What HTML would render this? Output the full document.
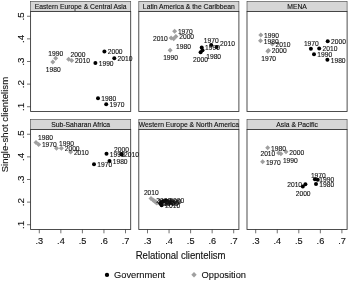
<!DOCTYPE html><html><head><meta charset="utf-8"><title>chart</title><style>html,body{margin:0;padding:0;background:#fff}svg{display:block;will-change:transform;filter:grayscale(1)}text{font-family:"Liberation Sans",sans-serif;fill:#111;stroke:#111;stroke-width:0.12px}</style></head><body>
<svg width="350" height="281" viewBox="0 0 350 281">
<rect width="350" height="281" fill="#fff"/>
<rect x="30.60" y="1.45" width="100.10" height="10.05" fill="#d6d6d6" stroke="#4a4a4a" stroke-width="0.65"/>
<rect x="30.60" y="11.50" width="100.10" height="100.00" fill="#fff" stroke="#2e2e2e" stroke-width="0.85"/>
<text transform="translate(80.65,8.72) scale(0.94,1)" font-size="7.23" text-anchor="middle">Eastern Europe &amp; Central Asia</text>
<rect x="138.80" y="1.45" width="100.10" height="10.05" fill="#d6d6d6" stroke="#4a4a4a" stroke-width="0.65"/>
<rect x="138.80" y="11.50" width="100.10" height="100.00" fill="#fff" stroke="#2e2e2e" stroke-width="0.85"/>
<text transform="translate(188.85,8.72) scale(0.94,1)" font-size="7.23" text-anchor="middle">Latin America &amp; the Caribbean</text>
<rect x="247.00" y="1.45" width="100.10" height="10.05" fill="#d6d6d6" stroke="#4a4a4a" stroke-width="0.65"/>
<rect x="247.00" y="11.50" width="100.10" height="100.00" fill="#fff" stroke="#2e2e2e" stroke-width="0.85"/>
<text transform="translate(297.05,8.72) scale(0.94,1)" font-size="7.23" text-anchor="middle">MENA</text>
<line x1="27.00" y1="16.25" x2="30.60" y2="16.25" stroke="#333" stroke-width="0.7"/>
<text transform="translate(23.60,16.35) rotate(-90)" font-size="9.80" text-anchor="middle">.5</text>
<line x1="27.00" y1="38.87" x2="30.60" y2="38.87" stroke="#333" stroke-width="0.7"/>
<text transform="translate(23.60,38.97) rotate(-90)" font-size="9.80" text-anchor="middle">.4</text>
<line x1="27.00" y1="61.49" x2="30.60" y2="61.49" stroke="#333" stroke-width="0.7"/>
<text transform="translate(23.60,61.59) rotate(-90)" font-size="9.80" text-anchor="middle">.3</text>
<line x1="27.00" y1="84.11" x2="30.60" y2="84.11" stroke="#333" stroke-width="0.7"/>
<text transform="translate(23.60,84.21) rotate(-90)" font-size="9.80" text-anchor="middle">.2</text>
<line x1="27.00" y1="106.73" x2="30.60" y2="106.73" stroke="#333" stroke-width="0.7"/>
<text transform="translate(23.60,106.83) rotate(-90)" font-size="9.80" text-anchor="middle">.1</text>
<rect x="30.60" y="119.45" width="100.10" height="10.05" fill="#d6d6d6" stroke="#4a4a4a" stroke-width="0.65"/>
<rect x="30.60" y="129.50" width="100.10" height="100.00" fill="#fff" stroke="#2e2e2e" stroke-width="0.85"/>
<text transform="translate(80.65,126.72) scale(0.94,1)" font-size="7.23" text-anchor="middle">Sub-Saharan Africa</text>
<line x1="39.30" y1="229.50" x2="39.30" y2="233.30" stroke="#333" stroke-width="0.7"/>
<text transform="translate(39.40,243.80) scale(0.94,1)" font-size="9.80" text-anchor="middle">.3</text>
<line x1="60.85" y1="229.50" x2="60.85" y2="233.30" stroke="#333" stroke-width="0.7"/>
<text transform="translate(60.95,243.80) scale(0.94,1)" font-size="9.80" text-anchor="middle">.4</text>
<line x1="82.40" y1="229.50" x2="82.40" y2="233.30" stroke="#333" stroke-width="0.7"/>
<text transform="translate(82.50,243.80) scale(0.94,1)" font-size="9.80" text-anchor="middle">.5</text>
<line x1="103.95" y1="229.50" x2="103.95" y2="233.30" stroke="#333" stroke-width="0.7"/>
<text transform="translate(104.05,243.80) scale(0.94,1)" font-size="9.80" text-anchor="middle">.6</text>
<line x1="125.50" y1="229.50" x2="125.50" y2="233.30" stroke="#333" stroke-width="0.7"/>
<text transform="translate(125.60,243.80) scale(0.94,1)" font-size="9.80" text-anchor="middle">.7</text>
<rect x="138.80" y="119.45" width="100.10" height="10.05" fill="#d6d6d6" stroke="#4a4a4a" stroke-width="0.65"/>
<rect x="138.80" y="129.50" width="100.10" height="100.00" fill="#fff" stroke="#2e2e2e" stroke-width="0.85"/>
<text transform="translate(188.85,126.72) scale(0.94,1)" font-size="7.23" text-anchor="middle">Western Europe &amp; North America</text>
<line x1="147.50" y1="229.50" x2="147.50" y2="233.30" stroke="#333" stroke-width="0.7"/>
<text transform="translate(147.60,243.80) scale(0.94,1)" font-size="9.80" text-anchor="middle">.3</text>
<line x1="169.05" y1="229.50" x2="169.05" y2="233.30" stroke="#333" stroke-width="0.7"/>
<text transform="translate(169.15,243.80) scale(0.94,1)" font-size="9.80" text-anchor="middle">.4</text>
<line x1="190.60" y1="229.50" x2="190.60" y2="233.30" stroke="#333" stroke-width="0.7"/>
<text transform="translate(190.70,243.80) scale(0.94,1)" font-size="9.80" text-anchor="middle">.5</text>
<line x1="212.15" y1="229.50" x2="212.15" y2="233.30" stroke="#333" stroke-width="0.7"/>
<text transform="translate(212.25,243.80) scale(0.94,1)" font-size="9.80" text-anchor="middle">.6</text>
<line x1="233.70" y1="229.50" x2="233.70" y2="233.30" stroke="#333" stroke-width="0.7"/>
<text transform="translate(233.80,243.80) scale(0.94,1)" font-size="9.80" text-anchor="middle">.7</text>
<rect x="247.00" y="119.45" width="100.10" height="10.05" fill="#d6d6d6" stroke="#4a4a4a" stroke-width="0.65"/>
<rect x="247.00" y="129.50" width="100.10" height="100.00" fill="#fff" stroke="#2e2e2e" stroke-width="0.85"/>
<text transform="translate(297.05,126.72) scale(0.94,1)" font-size="7.23" text-anchor="middle">Asia &amp; Pacific</text>
<line x1="255.70" y1="229.50" x2="255.70" y2="233.30" stroke="#333" stroke-width="0.7"/>
<text transform="translate(255.80,243.80) scale(0.94,1)" font-size="9.80" text-anchor="middle">.3</text>
<line x1="277.25" y1="229.50" x2="277.25" y2="233.30" stroke="#333" stroke-width="0.7"/>
<text transform="translate(277.35,243.80) scale(0.94,1)" font-size="9.80" text-anchor="middle">.4</text>
<line x1="298.80" y1="229.50" x2="298.80" y2="233.30" stroke="#333" stroke-width="0.7"/>
<text transform="translate(298.90,243.80) scale(0.94,1)" font-size="9.80" text-anchor="middle">.5</text>
<line x1="320.35" y1="229.50" x2="320.35" y2="233.30" stroke="#333" stroke-width="0.7"/>
<text transform="translate(320.45,243.80) scale(0.94,1)" font-size="9.80" text-anchor="middle">.6</text>
<line x1="341.90" y1="229.50" x2="341.90" y2="233.30" stroke="#333" stroke-width="0.7"/>
<text transform="translate(342.00,243.80) scale(0.94,1)" font-size="9.80" text-anchor="middle">.7</text>
<line x1="27.00" y1="134.25" x2="30.60" y2="134.25" stroke="#333" stroke-width="0.7"/>
<text transform="translate(23.60,134.35) rotate(-90)" font-size="9.80" text-anchor="middle">.5</text>
<line x1="27.00" y1="156.87" x2="30.60" y2="156.87" stroke="#333" stroke-width="0.7"/>
<text transform="translate(23.60,156.97) rotate(-90)" font-size="9.80" text-anchor="middle">.4</text>
<line x1="27.00" y1="179.49" x2="30.60" y2="179.49" stroke="#333" stroke-width="0.7"/>
<text transform="translate(23.60,179.59) rotate(-90)" font-size="9.80" text-anchor="middle">.3</text>
<line x1="27.00" y1="202.11" x2="30.60" y2="202.11" stroke="#333" stroke-width="0.7"/>
<text transform="translate(23.60,202.21) rotate(-90)" font-size="9.80" text-anchor="middle">.2</text>
<line x1="27.00" y1="224.73" x2="30.60" y2="224.73" stroke="#333" stroke-width="0.7"/>
<text transform="translate(23.60,224.83) rotate(-90)" font-size="9.80" text-anchor="middle">.1</text>
<text transform="translate(7.9,124.6) rotate(-90) scale(1,0.95)" font-size="9.60" text-anchor="middle">Single-shot clientelism</text>
<text transform="translate(180.6,258.7) scale(0.94,1)" font-size="10.20" text-anchor="middle">Relational clientelism</text>
<circle cx="107" cy="274.9" r="2.15" fill="#000"/>
<text transform="translate(114,278.1) scale(0.94,1)" font-size="9.90">Government</text>
<path d="M194 272.1 L196.7 274.8 L194 277.5 L191.3 274.8Z" fill="#a0a0a0"/>
<text transform="translate(201.6,278.1) scale(0.94,1)" font-size="9.90">Opposition</text>
<path d="M55.70 55.80 L58.20 58.30 L55.70 60.80 L53.20 58.30Z" fill="#a0a0a0"/>
<path d="M52.80 59.60 L55.30 62.10 L52.80 64.60 L50.30 62.10Z" fill="#a0a0a0"/>
<path d="M68.60 56.70 L71.10 59.20 L68.60 61.70 L66.10 59.20Z" fill="#a0a0a0"/>
<path d="M71.70 57.90 L74.20 60.40 L71.70 62.90 L69.20 60.40Z" fill="#a0a0a0"/>
<circle cx="104.40" cy="51.40" r="2.00" fill="#000"/>
<circle cx="114.30" cy="58.30" r="2.00" fill="#000"/>
<circle cx="95.40" cy="63.10" r="2.00" fill="#000"/>
<circle cx="98.00" cy="98.20" r="2.00" fill="#000"/>
<circle cx="106.20" cy="104.20" r="2.00" fill="#000"/>
<text x="55.70" y="55.91" font-size="6.70" text-anchor="middle" stroke="#111" stroke-width="0.18">1990</text>
<text x="53.30" y="71.71" font-size="6.70" text-anchor="middle" stroke="#111" stroke-width="0.18">1980</text>
<text x="70.60" y="56.91" font-size="6.70" text-anchor="start" stroke="#111" stroke-width="0.18">2000</text>
<text x="75.00" y="63.26" font-size="6.70" text-anchor="start" stroke="#111" stroke-width="0.18">2010</text>
<text x="107.70" y="54.26" font-size="6.70" text-anchor="start" stroke="#111" stroke-width="0.18">2000</text>
<text x="117.60" y="61.16" font-size="6.70" text-anchor="start" stroke="#111" stroke-width="0.18">2010</text>
<text x="98.70" y="65.96" font-size="6.70" text-anchor="start" stroke="#111" stroke-width="0.18">1990</text>
<text x="101.30" y="101.06" font-size="6.70" text-anchor="start" stroke="#111" stroke-width="0.18">1980</text>
<text x="109.50" y="107.06" font-size="6.70" text-anchor="start" stroke="#111" stroke-width="0.18">1970</text>
<path d="M174.60 28.70 L177.10 31.20 L174.60 33.70 L172.10 31.20Z" fill="#a0a0a0"/>
<path d="M175.90 34.10 L178.40 36.60 L175.90 39.10 L173.40 36.60Z" fill="#a0a0a0"/>
<path d="M171.10 35.50 L173.60 38.00 L171.10 40.50 L168.60 38.00Z" fill="#a0a0a0"/>
<path d="M173.70 36.20 L176.20 38.70 L173.70 41.20 L171.20 38.70Z" fill="#a0a0a0"/>
<path d="M170.10 47.70 L172.60 50.20 L170.10 52.70 L167.60 50.20Z" fill="#a0a0a0"/>
<circle cx="211.20" cy="45.10" r="2.00" fill="#000"/>
<circle cx="216.60" cy="46.90" r="2.00" fill="#000"/>
<circle cx="201.70" cy="47.40" r="2.00" fill="#000"/>
<circle cx="202.50" cy="50.30" r="2.00" fill="#000"/>
<circle cx="200.60" cy="52.30" r="2.00" fill="#000"/>
<text x="177.90" y="34.06" font-size="6.70" text-anchor="start" stroke="#111" stroke-width="0.18">1970</text>
<text x="179.20" y="39.46" font-size="6.70" text-anchor="start" stroke="#111" stroke-width="0.18">2000</text>
<text x="167.80" y="40.86" font-size="6.70" text-anchor="end" stroke="#111" stroke-width="0.18">2010</text>
<text x="176.10" y="48.81" font-size="6.70" text-anchor="start" stroke="#111" stroke-width="0.18">1980</text>
<text x="170.60" y="59.81" font-size="6.70" text-anchor="middle" stroke="#111" stroke-width="0.18">1990</text>
<text x="211.20" y="42.71" font-size="6.70" text-anchor="middle" stroke="#111" stroke-width="0.18">1970</text>
<text x="220.00" y="46.21" font-size="6.70" text-anchor="start" stroke="#111" stroke-width="0.18">2010</text>
<text x="205.00" y="50.26" font-size="6.70" text-anchor="start" stroke="#111" stroke-width="0.18">1990</text>
<text x="206.20" y="59.01" font-size="6.70" text-anchor="start" stroke="#111" stroke-width="0.18">1980</text>
<text x="193.10" y="61.81" font-size="6.70" text-anchor="start" stroke="#111" stroke-width="0.18">2000</text>
<path d="M260.80 32.55 L263.30 35.05 L260.80 37.55 L258.30 35.05Z" fill="#a0a0a0"/>
<path d="M260.50 38.30 L263.00 40.80 L260.50 43.30 L258.00 40.80Z" fill="#a0a0a0"/>
<path d="M272.30 41.50 L274.80 44.00 L272.30 46.50 L269.80 44.00Z" fill="#a0a0a0"/>
<path d="M268.50 47.90 L271.00 50.40 L268.50 52.90 L266.00 50.40Z" fill="#a0a0a0"/>
<path d="M267.80 48.80 L270.30 51.30 L267.80 53.80 L265.30 51.30Z" fill="#a0a0a0"/>
<circle cx="327.70" cy="41.30" r="2.00" fill="#000"/>
<circle cx="310.90" cy="48.70" r="2.00" fill="#000"/>
<circle cx="319.20" cy="48.50" r="2.00" fill="#000"/>
<circle cx="314.00" cy="54.20" r="2.00" fill="#000"/>
<circle cx="327.40" cy="59.80" r="2.00" fill="#000"/>
<text x="264.10" y="37.91" font-size="6.70" text-anchor="start" stroke="#111" stroke-width="0.18">1990</text>
<text x="263.80" y="43.66" font-size="6.70" text-anchor="start" stroke="#111" stroke-width="0.18">1980</text>
<text x="275.60" y="46.86" font-size="6.70" text-anchor="start" stroke="#111" stroke-width="0.18">2010</text>
<text x="271.80" y="53.26" font-size="6.70" text-anchor="start" stroke="#111" stroke-width="0.18">2000</text>
<text x="261.20" y="61.21" font-size="6.70" text-anchor="start" stroke="#111" stroke-width="0.18">1970</text>
<text x="331.00" y="44.16" font-size="6.70" text-anchor="start" stroke="#111" stroke-width="0.18">2000</text>
<text x="303.90" y="45.81" font-size="6.70" text-anchor="start" stroke="#111" stroke-width="0.18">1970</text>
<text x="322.50" y="51.36" font-size="6.70" text-anchor="start" stroke="#111" stroke-width="0.18">2010</text>
<text x="317.30" y="57.06" font-size="6.70" text-anchor="start" stroke="#111" stroke-width="0.18">1990</text>
<text x="330.70" y="62.66" font-size="6.70" text-anchor="start" stroke="#111" stroke-width="0.18">1980</text>
<path d="M36.00 139.90 L38.50 142.40 L36.00 144.90 L33.50 142.40Z" fill="#a0a0a0"/>
<path d="M38.60 142.10 L41.10 144.60 L38.60 147.10 L36.10 144.60Z" fill="#a0a0a0"/>
<path d="M56.50 145.80 L59.00 148.30 L56.50 150.80 L54.00 148.30Z" fill="#a0a0a0"/>
<path d="M61.40 145.80 L63.90 148.30 L61.40 150.80 L58.90 148.30Z" fill="#a0a0a0"/>
<path d="M70.60 149.60 L73.10 152.10 L70.60 154.60 L68.10 152.10Z" fill="#a0a0a0"/>
<circle cx="106.50" cy="153.80" r="2.00" fill="#000"/>
<circle cx="121.30" cy="154.00" r="2.00" fill="#000"/>
<circle cx="121.60" cy="154.40" r="2.00" fill="#000"/>
<circle cx="109.50" cy="161.00" r="2.00" fill="#000"/>
<circle cx="94.00" cy="164.30" r="2.00" fill="#000"/>
<text x="38.10" y="140.01" font-size="6.70" text-anchor="start" stroke="#111" stroke-width="0.18">1980</text>
<text x="41.90" y="147.46" font-size="6.70" text-anchor="start" stroke="#111" stroke-width="0.18">1970</text>
<text x="59.10" y="146.11" font-size="6.70" text-anchor="start" stroke="#111" stroke-width="0.18">1990</text>
<text x="64.70" y="151.16" font-size="6.70" text-anchor="start" stroke="#111" stroke-width="0.18">2000</text>
<text x="73.90" y="154.96" font-size="6.70" text-anchor="start" stroke="#111" stroke-width="0.18">2010</text>
<text x="109.80" y="156.66" font-size="6.70" text-anchor="start" stroke="#111" stroke-width="0.18">1990</text>
<text x="114.00" y="151.61" font-size="6.70" text-anchor="start" stroke="#111" stroke-width="0.18">2000</text>
<text x="124.00" y="157.21" font-size="6.70" text-anchor="start" stroke="#111" stroke-width="0.18">2010</text>
<text x="112.70" y="163.81" font-size="6.70" text-anchor="start" stroke="#111" stroke-width="0.18">1980</text>
<text x="97.30" y="167.16" font-size="6.70" text-anchor="start" stroke="#111" stroke-width="0.18">1970</text>
<path d="M151.00 196.10 L153.50 198.60 L151.00 201.10 L148.50 198.60Z" fill="#a0a0a0"/>
<path d="M153.00 197.50 L155.50 200.00 L153.00 202.50 L150.50 200.00Z" fill="#a0a0a0"/>
<path d="M154.40 198.50 L156.90 201.00 L154.40 203.50 L151.90 201.00Z" fill="#a0a0a0"/>
<path d="M155.60 199.40 L158.10 201.90 L155.60 204.40 L153.10 201.90Z" fill="#a0a0a0"/>
<path d="M156.90 200.50 L159.40 203.00 L156.90 205.50 L154.40 203.00Z" fill="#a0a0a0"/>
<circle cx="160.30" cy="203.40" r="2.00" fill="#000"/>
<circle cx="161.30" cy="202.40" r="2.00" fill="#000"/>
<circle cx="163.00" cy="201.30" r="2.00" fill="#000"/>
<circle cx="166.00" cy="200.60" r="2.00" fill="#000"/>
<circle cx="161.60" cy="205.20" r="2.00" fill="#000"/>
<text x="143.90" y="195.11" font-size="6.70" text-anchor="start" stroke="#111" stroke-width="0.18">2010</text>
<text x="156.30" y="202.86" font-size="6.70" text-anchor="start" stroke="#111" stroke-width="0.18">2000</text>
<text x="157.70" y="203.86" font-size="6.70" text-anchor="start" stroke="#111" stroke-width="0.18">1990</text>
<text x="158.90" y="204.76" font-size="6.70" text-anchor="start" stroke="#111" stroke-width="0.18">1980</text>
<text x="160.20" y="205.86" font-size="6.70" text-anchor="start" stroke="#111" stroke-width="0.18">1970</text>
<text x="163.60" y="206.26" font-size="6.70" text-anchor="start" stroke="#111" stroke-width="0.18">1970</text>
<text x="164.60" y="205.26" font-size="6.70" text-anchor="start" stroke="#111" stroke-width="0.18">1980</text>
<text x="166.30" y="204.16" font-size="6.70" text-anchor="start" stroke="#111" stroke-width="0.18">1990</text>
<text x="169.30" y="203.46" font-size="6.70" text-anchor="start" stroke="#111" stroke-width="0.18">2000</text>
<text x="165.30" y="208.41" font-size="6.70" text-anchor="start" stroke="#111" stroke-width="0.18">2010</text>
<path d="M267.70 145.20 L270.20 147.70 L267.70 150.20 L265.20 147.70Z" fill="#a0a0a0"/>
<path d="M286.00 149.20 L288.50 151.70 L286.00 154.20 L283.50 151.70Z" fill="#a0a0a0"/>
<path d="M278.60 150.60 L281.10 153.10 L278.60 155.60 L276.10 153.10Z" fill="#a0a0a0"/>
<path d="M280.90 151.30 L283.40 153.80 L280.90 156.30 L278.40 153.80Z" fill="#a0a0a0"/>
<path d="M262.60 159.20 L265.10 161.70 L262.60 164.20 L260.10 161.70Z" fill="#a0a0a0"/>
<circle cx="314.90" cy="179.30" r="2.00" fill="#000"/>
<circle cx="317.70" cy="179.80" r="2.00" fill="#000"/>
<circle cx="316.00" cy="184.00" r="2.00" fill="#000"/>
<circle cx="305.40" cy="184.20" r="2.00" fill="#000"/>
<circle cx="302.80" cy="186.60" r="2.00" fill="#000"/>
<text x="271.00" y="150.56" font-size="6.70" text-anchor="start" stroke="#111" stroke-width="0.18">1980</text>
<text x="289.30" y="154.56" font-size="6.70" text-anchor="start" stroke="#111" stroke-width="0.18">2000</text>
<text x="275.30" y="155.96" font-size="6.70" text-anchor="end" stroke="#111" stroke-width="0.18">2010</text>
<text x="282.90" y="162.81" font-size="6.70" text-anchor="start" stroke="#111" stroke-width="0.18">1990</text>
<text x="265.90" y="164.56" font-size="6.70" text-anchor="start" stroke="#111" stroke-width="0.18">1970</text>
<text x="310.90" y="177.51" font-size="6.70" text-anchor="start" stroke="#111" stroke-width="0.18">1970</text>
<text x="319.30" y="182.21" font-size="6.70" text-anchor="start" stroke="#111" stroke-width="0.18">1990</text>
<text x="319.30" y="186.86" font-size="6.70" text-anchor="start" stroke="#111" stroke-width="0.18">1980</text>
<text x="302.10" y="187.06" font-size="6.70" text-anchor="end" stroke="#111" stroke-width="0.18">2010</text>
<text x="295.70" y="195.61" font-size="6.70" text-anchor="start" stroke="#111" stroke-width="0.18">2000</text>
</svg></body></html>
